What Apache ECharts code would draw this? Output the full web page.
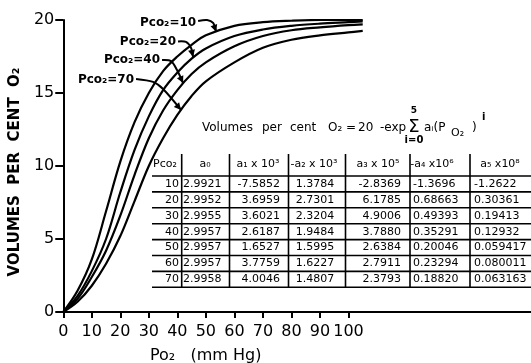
<!DOCTYPE html>
<html>
<head>
<meta charset="utf-8">
<script src="https://cdn.jsdelivr.net/npm/echarts@6/dist/echarts.min.js"></script>
<style>
  html, body { margin: 0; padding: 0; background: #fff; }
  #main { width: 531px; height: 363px; }
</style>
</head>
<body>
<div id="main"></div>
<script>
// Po2 sample points (mm Hg) and O2 volumes per cent
const po2 = [0, 5, 10, 15, 20, 25, 30, 35, 40, 45, 50, 60, 70, 80, 90, 100, 105];
const pco2_10 = [0, 1.45, 3.6, 6.9, 10.3, 13.0, 15.0, 16.5, 17.5, 18.3, 18.95, 19.6, 19.85, 19.95, 20, 20, 20];
const pco2_20 = [0, 1.1, 2.8, 5.0, 8.2, 11.1, 13.4, 15.2, 16.4, 17.35, 18.05, 18.9, 19.35, 19.6, 19.75, 19.85, 19.9];
const pco2_40 = [0, 0.9, 2.4, 4.2, 6.6, 9.4, 11.9, 13.8, 15.2, 16.3, 17.1, 18.2, 18.9, 19.3, 19.5, 19.65, 19.7];
const pco2_70 = [0, 0.7, 1.8, 3.3, 5.2, 7.6, 10.0, 11.9, 13.5, 14.8, 15.8, 17.1, 18.1, 18.65, 18.95, 19.15, 19.25];

const xTicks = [0, 10, 20, 30, 40, 50, 60, 70, 80, 90, 100];

// coefficient table
const tblHead = ['Pco₂', 'a₀', 'a₁ x 10³', '-a₂ x 10³', 'a₃ x 10⁵', '-a₄ x10⁶', 'a₅ x10⁸'];
const tblPco2 = ['10', '20', '30', '40', '50', '60', '70'];
const tblA0 = ['2.9921', '2.9952', '2.9955', '2.9957', '2.9957', '2.9957', '2.9958'];
const tblA1 = ['-7.5852', '3.6959', '3.6021', '2.6187', '1.6527', '3.7759', '4.0046'];
const tblA2 = ['1.3784', '2.7301', '2.3204', '1.9484', '1.5995', '1.6227', '1.4807'];
const tblA3 = ['-2.8369', '6.1785', '4.9006', '3.7880', '2.6384', '2.7911', '2.3793'];
const tblA4 = ['-1.3696', '0.68663', '0.49393', '0.35291', '0.20046', '0.23294', '0.18820'];
const tblA5 = ['-1.2622', '0.30361', '0.19413', '0.12932', '0.059417', '0.080011', '0.063163'];

const FONT = 'DejaVu Sans';

const chart = echarts.init(document.getElementById('main'));

const curves = [
  { name: 'Pco₂=10', vals: pco2_10, tip: [53.6, 19.2], txt: [-20, -9], path: [[-18, -10.7], [-9, -11.7], [-3, -8.7]] },
  { name: 'Pco₂=20', vals: pco2_20, tip: [45.5, 17.47], txt: [-17, -15], path: [[-15, -15.5], [-7, -15], [-2, -9]] },
  { name: 'Pco₂=40', vals: pco2_40, tip: [42.0, 15.68], txt: [-23, -23], path: [[-21, -23], [-12, -22], [-6, -13]] },
  { name: 'Pco₂=70', vals: pco2_70, tip: [41.3, 13.84], txt: [-47, -30], path: [[-45, -31], [-28, -28], [-18, -21]] }
];

chart.setOption({
  animation: false,
  backgroundColor: '#fff',
  grid: { left: 59, right: 0, top: 20, bottom: 51 },
  xAxis: {
    type: 'value',
    min: 0,
    max: 164,
    interval: 10,
    axisLine: { show: true, onZero: false, lineStyle: { color: '#000', width: 2 } },
    axisTick: { show: true, customValues: xTicks, length: 6, lineStyle: { color: '#000', width: 2 } },
    axisLabel: { customValues: xTicks, color: '#000', fontSize: 16, fontFamily: FONT, margin: 12 },
    splitLine: { show: false }
  },
  yAxis: {
    type: 'value',
    min: 0,
    max: 20,
    interval: 5,
    name: 'VOLUMES  PER  CENT  O₂',
    nameLocation: 'middle',
    nameGap: 38,
    nameTextStyle: { color: '#000', fontSize: 15, fontWeight: 'bold', fontFamily: FONT, padding: [0, 12, 0, 0] },
    axisLine: { show: true, lineStyle: { color: '#000', width: 2 } },
    axisTick: { show: true, length: 8, lineStyle: { color: '#000', width: 2 } },
    axisLabel: { color: '#000', fontSize: 16, fontFamily: FONT, margin: 9 },
    splitLine: { show: false }
  },
  series: curves.map(c => ({
    type: 'line',
    name: c.name,
    data: po2.map((p, i) => [p, c.vals[i]]),
    smooth: 0.35,
    symbol: 'none',
    silent: true,
    lineStyle: { color: '#000', width: 2.2 }
  }))
});

// annotations: curve labels with arrows, formula, coefficient table, x axis name
const g = [];
const txt = (x, y, s, opt) => g.push({
  type: 'text', x: x, y: y, silent: true,
  style: Object.assign({ text: s, fill: '#000', font: '11px "' + FONT + '"', align: 'left', verticalAlign: 'middle' }, opt || {})
});
const line = (x1, y1, x2, y2, w) => g.push({
  type: 'line', silent: true, shape: { x1: x1, y1: y1, x2: x2, y2: y2 },
  style: { stroke: '#000', lineWidth: w || 1.5 }
});

curves.forEach(c => {
  const [tx, ty] = chart.convertToPixel({ gridIndex: 0 }, c.tip);
  txt(tx + c.txt[0], ty + c.txt[1], c.name, { font: 'bold 12px "' + FONT + '"', align: 'right' });
  const pts = c.path.map(p => [tx + p[0], ty + p[1]]).concat([[tx, ty]]);
  g.push({ type: 'polyline', silent: true, shape: { points: pts, smooth: 0.3 }, style: { stroke: '#000', lineWidth: 2, fill: null } });
  const prev = pts[pts.length - 2];
  const dx = tx - prev[0], dy = ty - prev[1], len = Math.hypot(dx, dy);
  const ux = dx / len, uy = dy / len;
  g.push({
    type: 'polygon', silent: true,
    shape: { points: [[tx, ty], [tx - 7 * ux - 3.5 * uy, ty - 7 * uy + 3.5 * ux], [tx - 7 * ux + 3.5 * uy, ty - 7 * uy - 3.5 * ux]] },
    style: { fill: '#000' }
  });
});

// formula
const F12 = '12px "' + FONT + '"';
txt(202, 128, 'Volumes', { font: F12 });
txt(262, 128, 'per', { font: F12 });
txt(290, 128, 'cent', { font: F12 });
txt(328, 128, 'O₂ =', { font: F12 });
txt(358, 128, '20', { font: F12 });
txt(380, 128, '-exp', { font: F12 });
txt(414, 127, 'Σ', { font: '18px "' + FONT + '"', align: 'center' });
txt(414, 111, '5', { font: 'bold 9px "' + FONT + '"', align: 'center' });
txt(414, 140, 'i=0', { font: 'bold 10px "' + FONT + '"', align: 'center' });
txt(424, 128, 'aᵢ(P', { font: F12 });
txt(451, 133, 'O₂', { font: '11px "' + FONT + '"' });
txt(472, 128, ')', { font: F12 });
txt(482, 117, 'i', { font: 'bold 10px "' + FONT + '"' });

// table
const colX = [179, 183, 280, 315, 401, 413, 474];
const colAlign = ['right', 'left', 'right', 'center', 'right', 'left', 'left'];
const headX = [165, 205, 258, 314, 378, 432, 500];
const cols = [tblPco2, tblA0, tblA1, tblA2, tblA3, tblA4, tblA5];
const rowTop = 176, rowH = 15.9, headY = 164;
const vLines = [181.7, 229.5, 288.5, 345.5, 410, 470];

tblHead.forEach((h, j) => txt(headX[j], headY, h, { align: 'center', font: '11px "' + FONT + '"' }));
for (let i = 0; i < tblPco2.length; i++) {
  const y = rowTop + rowH * (i + 0.5);
  cols.forEach((col, j) => txt(colX[j], y, col[i], { align: colAlign[j] }));
}
for (let i = 0; i <= tblPco2.length; i++) {
  line(152, rowTop + rowH * i, 531, rowTop + rowH * i, 1.6);
}
const tblBottom = rowTop + rowH * tblPco2.length;
vLines.forEach(x => line(x, 154, x, tblBottom, 1.6));

// x axis name
txt(150, 356, 'Po₂   (mm Hg)', { font: '16px "' + FONT + '"' });

chart.setOption({ graphic: g });
</script>
</body>
</html>
